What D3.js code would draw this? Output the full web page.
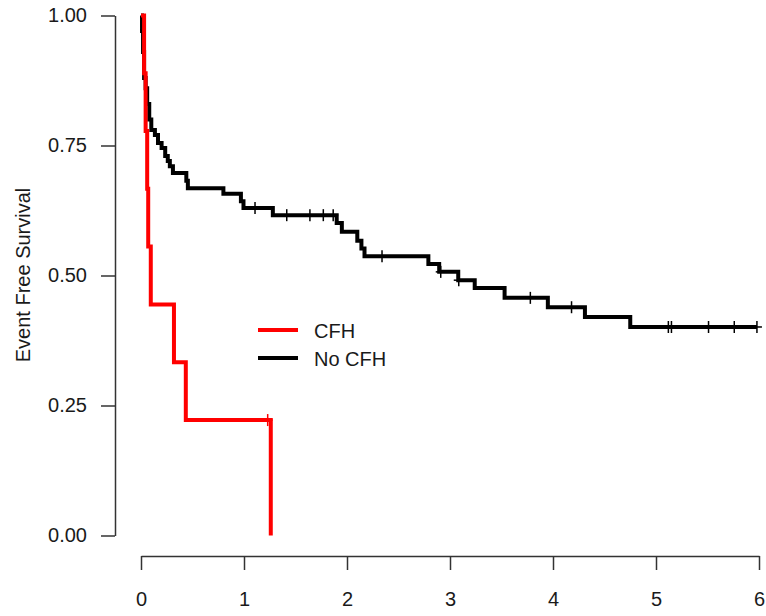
<!DOCTYPE html>
<html>
<head>
<meta charset="utf-8">
<script src="https://cdn.jsdelivr.net/npm/d3@7"></script>
<style>
  html, body { margin: 0; padding: 0; background: #fff; }
  svg { display: block; font-family: "Liberation Sans", Arial, sans-serif; }
</style>
</head>
<body>
<svg id="chart" width="766" height="616"></svg>
<script>
// ---- Data ----
const groups = ["CFH", "No CFH"];
const groupColors = ["#ff0000", "#000000"];

// CFH group: event times (years) and survival after each event
const cfhTimes = [0.03, 0.045, 0.06, 0.07, 0.095, 0.32, 0.435, 1.26];
const cfhSurv  = [0.889, 0.778, 0.667, 0.556, 0.444, 0.333, 0.222, 0.0];
const cfhCensor = [1.23];
const cfhEnd = 1.26;

// No CFH group
const noCfhTimes = [0.01, 0.02, 0.03, 0.045, 0.06, 0.08, 0.10, 0.135, 0.165, 0.20, 0.235, 0.26, 0.28, 0.31,
                    0.44, 0.455, 0.80, 0.97, 0.995, 1.28, 1.90, 1.95, 2.10, 2.14, 2.17, 2.79, 2.895,
                    3.08, 3.24, 3.53, 3.95, 4.31, 4.75];
const noCfhSurv  = [0.97, 0.93, 0.88, 0.86, 0.83, 0.80, 0.78, 0.77, 0.755, 0.745, 0.73, 0.72, 0.71, 0.697,
                    0.682, 0.668, 0.657, 0.643, 0.630, 0.616, 0.601, 0.584, 0.567, 0.552, 0.537, 0.522, 0.507,
                    0.491, 0.476, 0.457, 0.439, 0.420, 0.401];
const noCfhCensor = [1.107, 1.415, 1.64, 1.77, 1.866, 2.34, 2.91, 3.085, 3.78, 4.18, 5.12, 5.15, 5.51, 5.76, 5.98];
const noCfhEnd = 5.98;

const xTicks = [0, 1, 2, 3, 4, 5, 6];
const yTicks = [0, 0.25, 0.5, 0.75, 1];
const yLabel = "Event Free Survival";

// ---- Layout ----
const svg = d3.select("#chart");
svg.append("rect").attr("width", 766).attr("height", 616).attr("fill", "#fff");

const x = d3.scaleLinear().domain([0, 6]).range([141, 759]);
const y = d3.scaleLinear().domain([0, 1]).range([535.5, 15.5]);

const axisColor = "#333";
const textColor = "#1a1a1a";

// X axis
const xAxis = svg.append("g").attr("transform", "translate(0,556)")
  .call(d3.axisBottom(x).tickValues(xTicks).tickFormat(d3.format("d")).tickSize(14).tickSizeOuter(0).tickPadding(22));
xAxis.select(".domain").attr("stroke", axisColor).attr("stroke-width", 1.5);
xAxis.selectAll(".tick line").attr("stroke", axisColor).attr("stroke-width", 1.5);
xAxis.selectAll(".tick text").attr("fill", textColor).attr("font-size", 20)
  .attr("font-family", "Liberation Sans, Arial, sans-serif");

// Y axis
const yAxis = svg.append("g").attr("transform", "translate(115,0)")
  .call(d3.axisLeft(y).tickValues(yTicks).tickFormat(d3.format(".2f")).tickSize(14).tickSizeOuter(0).tickPadding(14));
yAxis.select(".domain").attr("stroke", axisColor).attr("stroke-width", 1.5);
yAxis.selectAll(".tick line").attr("stroke", axisColor).attr("stroke-width", 1.5);
yAxis.selectAll(".tick text").attr("fill", textColor).attr("font-size", 20)
  .attr("font-family", "Liberation Sans, Arial, sans-serif");

// Y label
svg.append("text")
  .attr("transform", "translate(30,275) rotate(-90)")
  .attr("text-anchor", "middle")
  .attr("font-size", 20)
  .attr("fill", textColor)
  .text(yLabel);

// ---- Curves ----
function stepPoints(times, surv, end) {
  const pts = [[0, 1]];
  times.forEach((t, i) => pts.push([t, surv[i]]));
  const last = pts[pts.length - 1];
  if (end > last[0]) pts.push([end, last[1]]);
  return pts;
}
function survAt(times, surv, t) {
  let s = 1;
  times.forEach((tt, i) => { if (tt <= t) s = surv[i]; });
  return s;
}

const line = d3.line().x(d => x(d[0])).y(d => y(d[1])).curve(d3.curveStepAfter);

const series = [
  { times: noCfhTimes, surv: noCfhSurv, censor: noCfhCensor, end: noCfhEnd, color: groupColors[1] },
  { times: cfhTimes, surv: cfhSurv, censor: cfhCensor, end: cfhEnd, color: groupColors[0] }
];

series.forEach(s => {
  svg.append("path")
    .datum(stepPoints(s.times, s.surv, s.end))
    .attr("d", line)
    .attr("fill", "none")
    .attr("stroke", s.color)
    .attr("stroke-width", 4)
    .attr("stroke-linejoin", "miter");
  const cg = svg.append("g");
  s.censor.forEach(t => {
    const cx = x(t), cy = y(survAt(s.times, s.surv, t));
    cg.append("line").attr("x1", cx).attr("x2", cx).attr("y1", cy - 6).attr("y2", cy + 6)
      .attr("stroke", s.color).attr("stroke-width", 1.5);
    cg.append("line").attr("x1", cx - 5).attr("x2", cx + 5).attr("y1", cy).attr("y2", cy)
      .attr("stroke", s.color).attr("stroke-width", 1.5);
  });
});

// ---- Legend ----
const legend = svg.append("g");
groups.forEach((g, i) => {
  const ly = 330 + i * 28;
  legend.append("line").attr("x1", 258).attr("x2", 298).attr("y1", ly).attr("y2", ly)
    .attr("stroke", groupColors[i]).attr("stroke-width", 4);
  legend.append("text").attr("x", 314).attr("y", ly + 7.5)
    .attr("font-size", 20).attr("fill", textColor).text(g);
});
</script>
</body>
</html>
